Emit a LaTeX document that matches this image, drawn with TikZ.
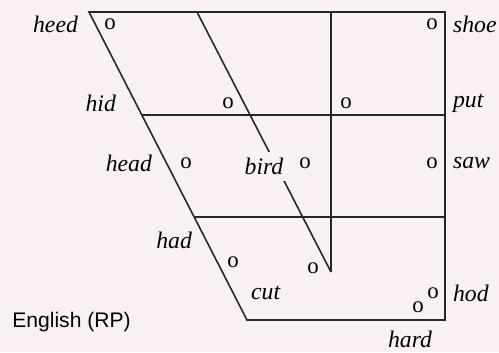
\documentclass[tikz,border=0pt]{standalone}
\usepackage{tikz}
\usetikzlibrary{positioning, calc}
\usepackage{xcolor}
\usepackage{fontspec}
\setmainfont{Liberation Serif}
\setsansfont{Liberation Sans}
\definecolor{paper}{RGB}{249,240,243}

\begin{document}
\begin{tikzpicture}[
    x=0.02cm, y=-0.02cm,
    word/.style={font=\fontsize{13.5}{15}\selectfont\itshape, inner sep=1pt},
    vowel/.style={font=\fontsize{13}{15}\selectfont, inner sep=0pt},
    chart/.style={line width=0.9pt, black!85},
    lang/.style={font=\sffamily\fontsize{12}{14}\selectfont, anchor=west, inner sep=0pt}
]
    % paper and frame of the picture
    \fill[paper] (0,0) rectangle (499,352);
    \useasboundingbox (0,0) rectangle (499,352);

    % corners of the vowel chart
    \coordinate (tl) at (89,12);
    \coordinate (tr) at (445,12);
    \coordinate (br) at (445,320);
    \coordinate (bl) at (247,320);
    \coordinate (midL) at (142,115);
    \coordinate (midR) at (445,115);
    \coordinate (lowL) at (195,217);
    \coordinate (lowR) at (445,217);
    \coordinate (cenT) at (197,12);
    \coordinate (backT) at (331,12);
    \coordinate (vtx) at (331,272);

    % outline and grid
    \draw[chart] (tl) -- (tr) -- (br) -- (bl) -- cycle;
    \draw[chart] (midL) -- (midR);
    \draw[chart] (lowL) -- (lowR);
    \draw[chart] (backT) -- (vtx);
    \draw[chart] (cenT) -- (vtx);

    % vowel points
    \node[vowel] (vheed) at (110,24) {o};
    \node[vowel] (vhid) at (228,103) {o};
    \node[vowel] (vhead) at (186,163) {o};
    \node[vowel] (vbird) at (305,163) {o};
    \node[vowel] (vhad) at (233,262) {o};
    \node[vowel] (vcut) at (313,268) {o};
    \node[vowel] (vshoe) at (432,24) {o};
    \node[vowel] (vput) at (346,103) {o};
    \node[vowel] (vsaw) at (432,163) {o};
    \node[vowel] (vhod) at (433,293) {o};
    \node[vowel] (vhard) at (418,307) {o};

    % word labels
    \node[word, anchor=east] (heed) at (80,24) {heed};
    \node[word, anchor=east] (hid) at (118,103) {hid};
    \node[word, anchor=east] (head) at (154,163) {head};
    \node[word, fill=paper, inner ysep=3.5pt] (bird) at (264,166) {bird};
    \node[word, anchor=east] (had) at (194,240) {had};
    \node[word, anchor=west] (cut) at (249,293) {cut};
    \node[word, anchor=west] (shoe) at (451,24) {shoe};
    \node[word, anchor=west] (put) at (451,103) {put};
    \node[word, anchor=west] (saw) at (451,163) {saw};
    \node[word, anchor=west] (hod) at (451,293) {hod};
    \node[word] (hard) at (410,339) {hard};

    \node[lang] (rp) at (12,322) {English (RP)};
\end{tikzpicture}
\end{document}
